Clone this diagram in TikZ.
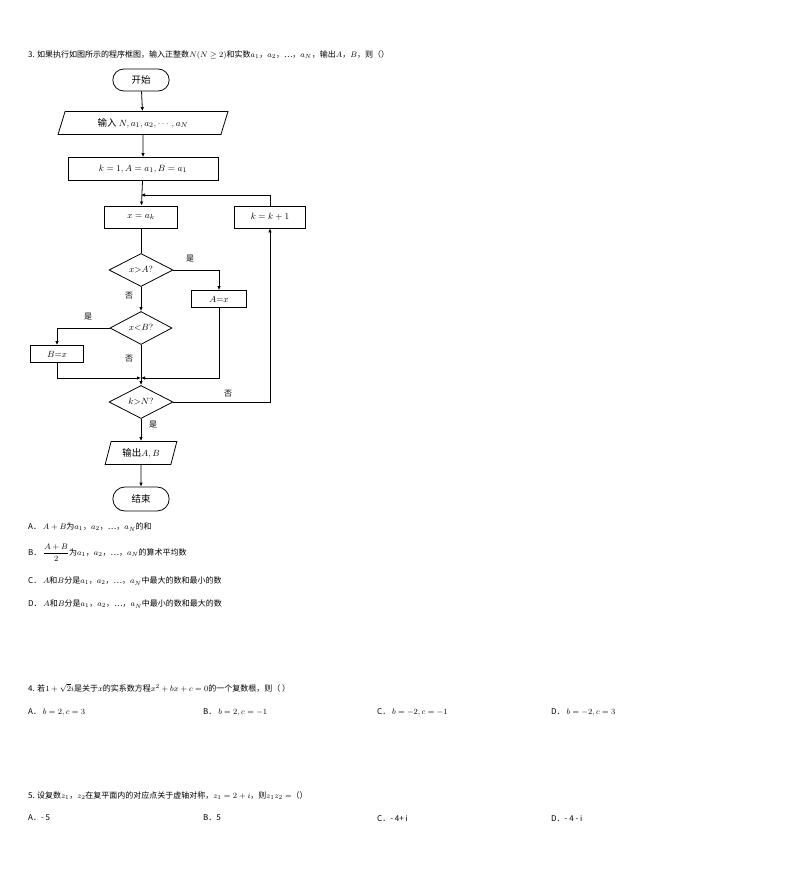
\documentclass[tikz,border=0pt]{standalone}
\usepackage{fontspec}
\usepackage{amsmath,amssymb}
\setmainfont{Noto Sans CJK SC}
\usetikzlibrary{shapes.geometric,shapes.misc,arrows.meta}
\begin{document}
\begin{tikzpicture}[x=1pt,y=-1pt,font=\fontsize{8}{10}\selectfont,
  fc/.style={line width=0.8pt,font=\fontsize{9.5}{11}\selectfont},
  box/.style={draw,fc,minimum width=#1,minimum height=23,inner sep=1pt},
  term/.style={draw,fc,rounded rectangle,minimum width=63,minimum height=22},
  io/.style={draw,fc,trapezium,trapezium left angle=75,trapezium right angle=105,minimum height=23,trapezium stretches=true,minimum width=#1},
  dec/.style={draw,fc,diamond,aspect=2,minimum width=64,minimum height=33,inner sep=0pt},
  sbox/.style={draw,fc,minimum width=#1,minimum height=17,inner sep=1pt},
  arr/.style={line width=0.8pt,-{Latex[length=4pt,width=3.5pt]}},
  ln/.style={line width=0.8pt},
  lbl/.style={font=\fontsize{8}{9}\selectfont},
  txt/.style={anchor=west,inner sep=0pt}]
\useasboundingbox (0,0) rectangle (794,889);
\node[txt] (q3) at (28,55) {3. 如果执行如图所示的程序框图，输入正整数$N(N\ge 2)$和实数$a_1$，$a_2$，…，$a_N$，输出$A$，$B$，则（）};
\node[term] (start) at (141,80) {开始};
\node[io=170] (in) at (143,123) {输入 $N,a_1,a_2,\cdots,a_N$};
\node[box=150] (init) at (143,169) {$k=1,A=a_1,B=a_1$};
\node[box=73,minimum height=22] (xa) at (141,217) {$x=a_k$};
\node[box=71,minimum height=22] (kk) at (270,217) {$k=k+1$};
\node[dec] (d1) at (141,270) {$x{>}A?$};
\node[sbox=55] (ax) at (219,299) {$A{=}x$};
\node[dec,minimum width=62] (d2) at (141,328) {$x{<}B?$};
\node[sbox=53] (bx) at (57,354) {$B{=}x$};
\node[dec] (d3) at (141,402) {$k{>}N?$};
\node[io=72] (out) at (141,453) {输出$A,B$};
\node[term,minimum height=24] (end) at (141,499) {结束};
\coordinate (loop) at (141,195);
\coordinate (m) at (141,378);
\draw[arr] (start) -- (in);
\draw[arr] (in) -- (init);
\draw[arr] (init) -- (xa);
\draw[ln] (xa) -- (d1);
\draw[arr] (d1.east) -| (ax.north);
\draw[arr] (d1) -- (d2);
\draw[arr] (d2.west) -| (bx.north);
\draw[ln] (d2.south) -- (m);
\draw[arr] (bx.south) |- (m);
\draw[arr] (ax.south) |- (m);
\draw[arr] (m) -- (d3.north);
\draw[arr] (d3.east) -| (kk.south);
\draw[arr] (kk.north) |- (loop);
\draw[arr] (d3) -- (out);
\draw[arr] (out) -- (end);
\node[lbl] at (190,259) {是};
\node[lbl] at (129,296) {否};
\node[lbl] at (88,317) {是};
\node[lbl] at (129,359) {否};
\node[lbl] at (228,394) {否};
\node[lbl] at (153,425) {是};
\node[txt] (oa) at (28,527) {A．\ $A+B$为$a_1$，$a_2$，…，$a_N$的和};
\node[txt] (ob) at (28,553) {B．\ $\dfrac{A+B}{2}$为$a_1$，$a_2$，…，$a_N$的算术平均数};
\node[txt] (oc) at (28,581) {C．\ $A$和$B$分是$a_1$，$a_2$，…，$a_N$中最大的数和最小的数};
\node[txt] (od) at (28,604) {D．\ $A$和$B$分是$a_1$，$a_2$，…，$a_N$中最小的数和最大的数};
\node[txt] (q4) at (28,688) {4. 若$1+\sqrt{2}i$是关于$x$的实系数方程$x^2+bx+c=0$的一个复数根，则（ ）};
\node[txt] at (28,712) {A．\ $b=2,c=3$};
\node[txt] at (203,712) {B．\ $b=2,c=-1$};
\node[txt] at (377,712) {C．\ $b=-2,c=-1$};
\node[txt] at (551,712) {D．\ $b=-2,c=3$};
\node[txt] (q5) at (28,796) {5. 设复数$z_1$，$z_2$在复平面内的对应点关于虚轴对称，$z_1=2+i$，则$z_1z_2=$（）};
\node[txt] at (28,818) {A．- 5};
\node[txt] at (203,818) {B．5};
\node[txt] at (377,818) {C．- 4+ i};
\node[txt] at (551,818) {D．- 4 - i};
\end{tikzpicture}
\end{document}
